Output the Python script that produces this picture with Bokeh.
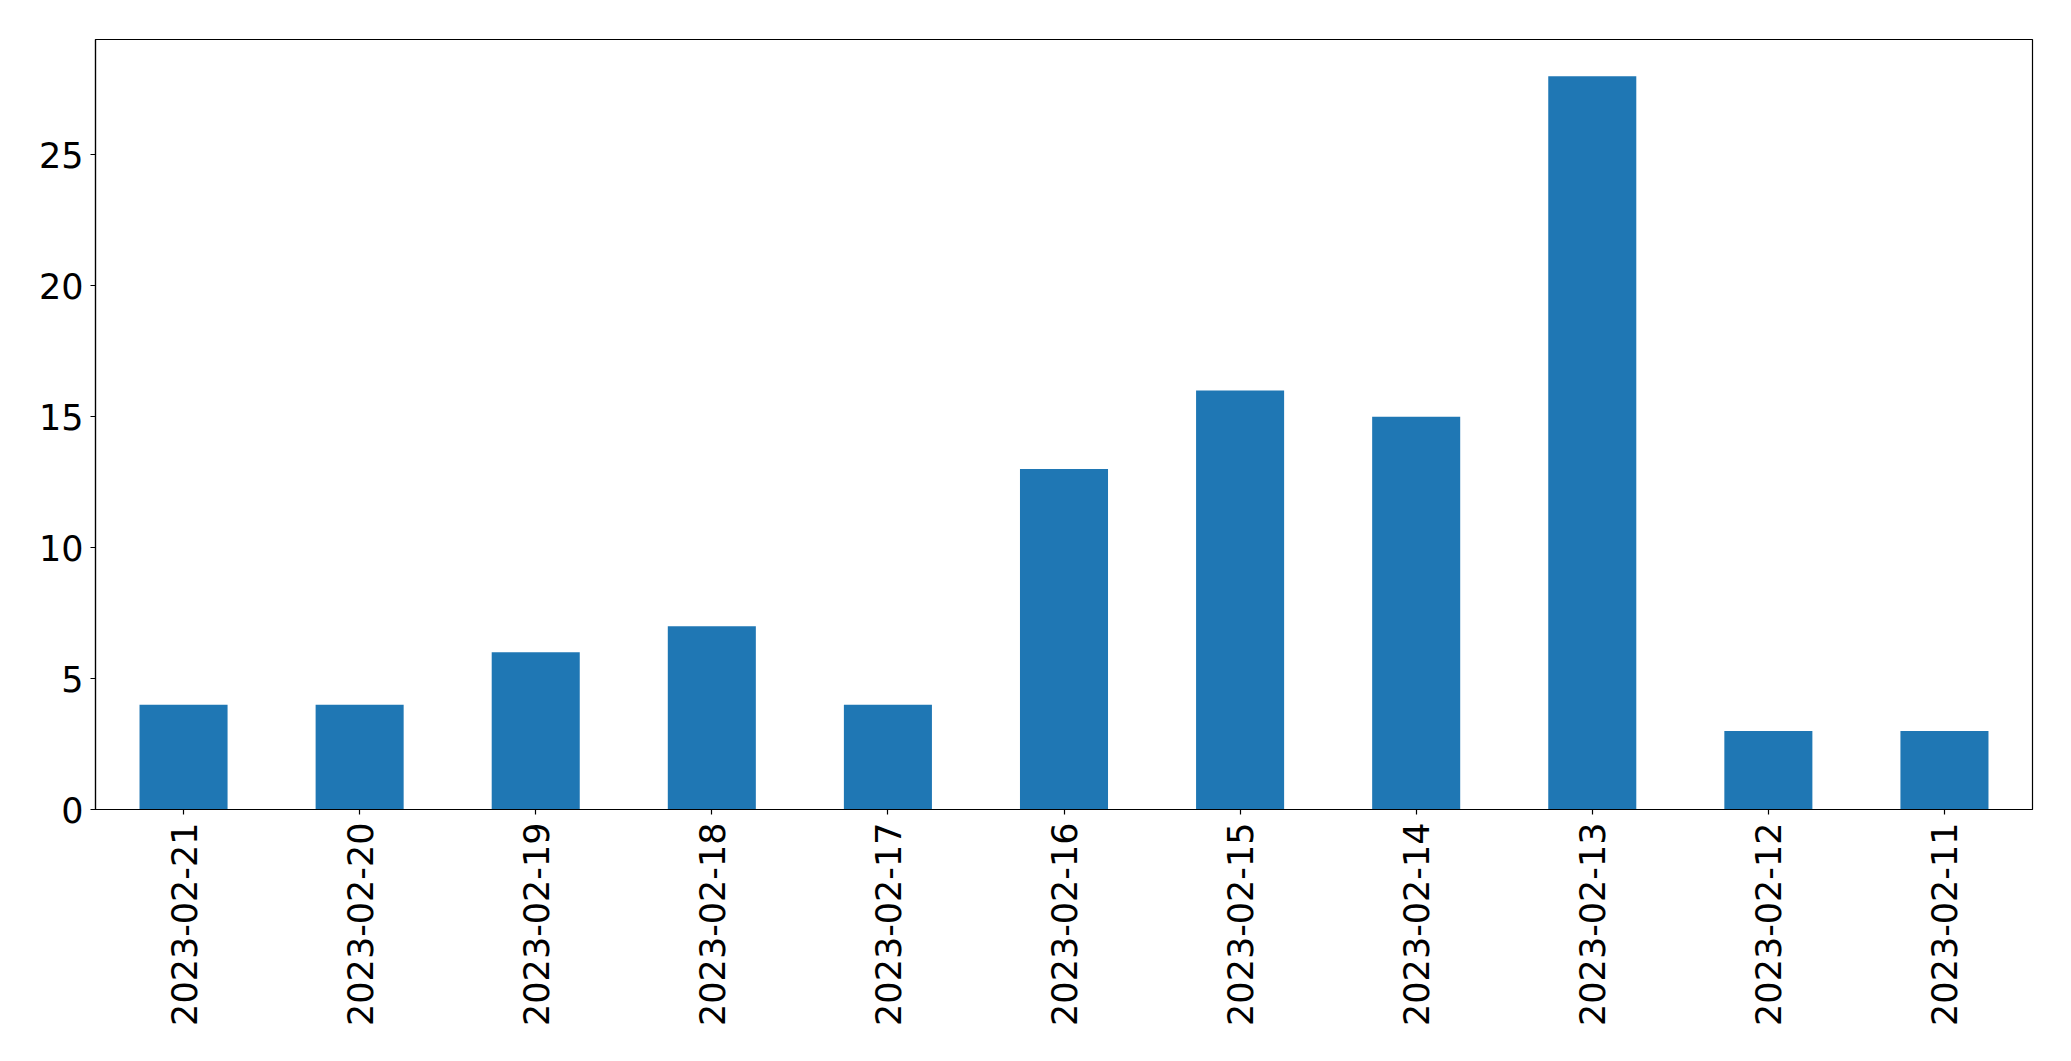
import math
from bokeh.plotting import figure
from bokeh.models import FactorRange, Range1d, FixedTicker
from bokeh.embed import file_html
from bokeh.resources import INLINE

dates = ["2023-02-21", "2023-02-20", "2023-02-19", "2023-02-18", "2023-02-17",
         "2023-02-16", "2023-02-15", "2023-02-14", "2023-02-13", "2023-02-12",
         "2023-02-11"]
counts = [4, 4, 6, 7, 4, 13, 16, 15, 28, 3, 3]
y_ticks = [0, 5, 10, 15, 20, 25]

p = figure(x_range=FactorRange(factors=dates, range_padding=0),
           y_range=Range1d(0, max(counts) * 1.05),
           frame_width=1937, frame_height=770,
           min_border_left=95, min_border_top=39, min_border_right=23, min_border_bottom=236,
           output_backend="svg", toolbar_location=None)

p.vbar(x=dates, top=counts, width=0.5, color="#1f77b4", line_color=None)

p.xgrid.visible = False
p.ygrid.visible = False
p.outline_line_color = "black"
p.outline_line_width = 1.2
p.outline_line_alpha = 1

for ax in (p.xaxis, p.yaxis):
    ax.axis_line_color = "black"
    ax.axis_line_width = 1.2
    ax.major_tick_line_color = "black"
    ax.major_tick_line_width = 1.2
    ax.major_tick_out = 5
    ax.major_tick_in = 0
    ax.minor_tick_line_color = None
    ax.major_label_text_font = "DejaVu Sans"
    ax.major_label_text_font_size = "35px"
    ax.major_label_text_color = "black"

p.yaxis.ticker = FixedTicker(ticks=y_ticks)
p.yaxis.major_label_standoff = 7
p.xaxis.major_label_orientation = math.pi / 2
p.xaxis.major_label_standoff = 8

open("out.html", "w").write(file_html(p, INLINE))
